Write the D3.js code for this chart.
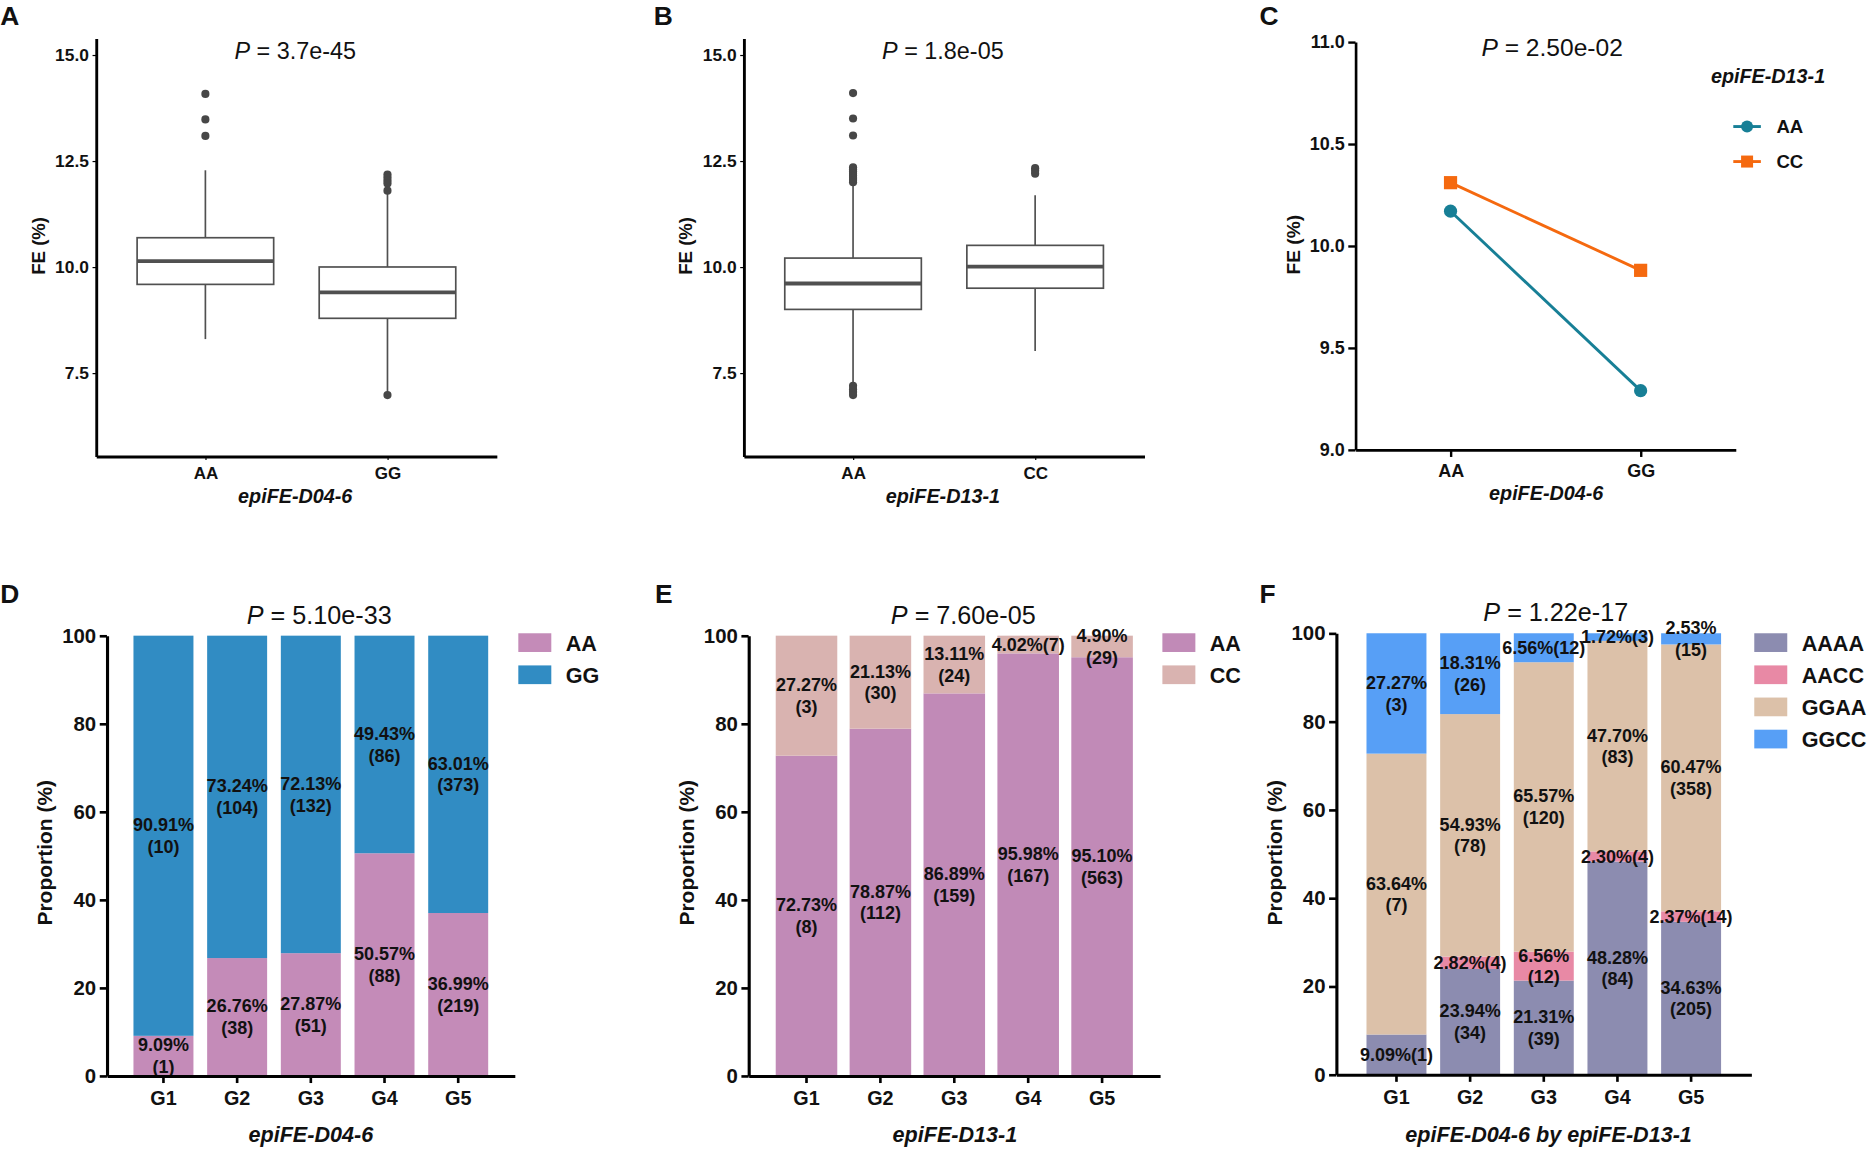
<!DOCTYPE html>
<html>
<head>
<meta charset="utf-8">
<script src="https://cdn.jsdelivr.net/npm/d3@7"></script>
<style>
body { margin: 0; background: #fff; }
svg text { font-family: "Liberation Sans", Arial, Helvetica, sans-serif; fill: #111; }
</style>
</head>
<body>
<svg id="fig"></svg>
<script>
"use strict";

// ---------------------------------------------------------------- data
const pValues = ["3.7e-45", "1.8e-05", "2.50e-02", "5.10e-33", "7.60e-05", "1.22e-17"];

// A: FE by epiFE-D04-6
const boxGroupsA = ["AA", "GG"];
const boxStatsA = [
  {lo: 8.30, q1: 9.59, med: 10.14, q3: 10.69, hi: 12.28},
  {lo: 7.05, q1: 8.79, med: 9.40, q3: 10.00, hi: 11.75}
];
const outliersA = [
  [14.08, 13.48, 13.09],
  [12.18, 12.11, 12.04, 11.97, 11.80, 6.98]
];

// B: FE by epiFE-D13-1
const boxGroupsB = ["AA", "CC"];
const boxStatsB = [
  {lo: 7.27, q1: 9.00, med: 9.61, q3: 10.21, hi: 11.95},
  {lo: 8.02, q1: 9.50, med: 10.01, q3: 10.51, hi: 11.69}
];
const outliersB = [
  [14.10, 13.50, 13.10, 12.35, 12.30, 12.25, 12.20, 12.15, 12.10, 12.05, 12.00, 7.20, 7.12, 7.05, 6.98],
  [12.33, 12.27, 12.20]
];

// C: interaction plot
const lineGroupsC = ["AA", "GG"];
const seriesNamesC = ["AA", "CC"];
const meanC_AA = [10.17, 9.29];
const meanC_CC = [10.31, 9.88];

// D, E, F: proportions per group
const groups = ["G1", "G2", "G3", "G4", "G5"];

const pctD_AA = [9.09, 26.76, 27.87, 50.57, 36.99];
const pctD_GG = [90.91, 73.24, 72.13, 49.43, 63.01];
const nD_AA = [1, 38, 51, 88, 219];
const nD_GG = [10, 104, 132, 86, 373];

const pctE_AA = [72.73, 78.87, 86.89, 95.98, 95.10];
const pctE_CC = [27.27, 21.13, 13.11, 4.02, 4.90];
const nE_AA = [8, 112, 159, 167, 563];
const nE_CC = [3, 30, 24, 7, 29];

const pctF_AAAA = [9.09, 23.94, 21.31, 48.28, 34.63];
const pctF_AACC = [0, 2.82, 6.56, 2.30, 2.37];
const pctF_GGAA = [63.64, 54.93, 65.57, 47.70, 60.47];
const pctF_GGCC = [27.27, 18.31, 6.56, 1.72, 2.53];
const nF_AAAA = [1, 34, 39, 84, 205];
const nF_AACC = [0, 4, 12, 4, 14];
const nF_GGAA = [7, 78, 120, 83, 358];
const nF_GGCC = [3, 26, 12, 3, 15];

// labels written on one line instead of two
const oneLineD = {AA: [0, 0, 0, 0, 0], GG: [0, 0, 0, 0, 0]};
const oneLineE = {AA: [0, 0, 0, 0, 0], CC: [0, 0, 0, 1, 0]};
const oneLineF = {AAAA: [1, 0, 0, 0, 0], AACC: [0, 1, 0, 1, 1], GGAA: [0, 0, 0, 0, 0], GGCC: [0, 0, 1, 1, 0]};

// ---------------------------------------------------------------- helpers
const svg = d3.select("#fig")
  .attr("width", 1875)
  .attr("height", 1155)
  .attr("viewBox", "0 0 1563 963");

const panelLetter = (x, y, t) => {
  svg.append("text").attr("x", x).attr("y", y)
    .style("font-size", "22px").style("font-weight", "bold").text(t);
};

const pLabel = (x, y, v, size) => {
  const t = svg.append("text").attr("x", x).attr("y", y)
    .attr("text-anchor", "middle").style("font-size", size + "px");
  t.append("tspan").style("font-style", "italic").text("P");
  t.append("tspan").text(" = " + v);
};

const yTitle = (x, y, t, size) => {
  svg.append("text")
    .attr("transform", `translate(${x},${y}) rotate(-90)`)
    .attr("text-anchor", "middle")
    .style("font-size", size + "px").style("font-weight", "bold").text(t);
};

const xTitle = (x, y, t, size) => {
  svg.append("text").attr("x", x).attr("y", y).attr("text-anchor", "middle")
    .style("font-size", size + "px").style("font-weight", "bold").style("font-style", "italic").text(t);
};

const styleAxis = (sel, lineW, tickW, fontSize) => {
  sel.select(".domain").attr("stroke", "#000").attr("stroke-width", lineW);
  sel.selectAll(".tick line").attr("stroke", "#000").attr("stroke-width", tickW);
  sel.selectAll(".tick text")
    .style("font-size", fontSize + "px").style("font-weight", "bold")
    .style("font-family", "'Liberation Sans', Arial, sans-serif").attr("fill", "#111");
};

// ---------------------------------------------------------------- box plots
const boxPanel = (o) => {
  const g = svg.append("g");
  const y = d3.scaleLinear().domain([5.535, 15.39]).range([380.5, 32]);
  const x = d3.scalePoint().domain(o.groups).range([o.left, o.left + 334]).padding(0.6);
  const hw = x.step() * 0.375;

  o.stats.forEach((s, i) => {
    const cx = x(o.groups[i]);
    const b = g.append("g").attr("stroke", "#505050");
    b.append("line").attr("x1", cx).attr("x2", cx).attr("y1", y(s.q3)).attr("y2", y(s.hi)).attr("stroke-width", 1.4);
    b.append("line").attr("x1", cx).attr("x2", cx).attr("y1", y(s.q1)).attr("y2", y(s.lo)).attr("stroke-width", 1.4);
    b.append("rect").attr("x", cx - hw).attr("y", y(s.q3))
      .attr("width", 2 * hw).attr("height", y(s.q1) - y(s.q3))
      .attr("fill", "#fff").attr("stroke-width", 1.4);
    b.append("line").attr("x1", cx - hw).attr("x2", cx + hw).attr("y1", y(s.med)).attr("y2", y(s.med)).attr("stroke-width", 3.2);
    g.selectAll(null).data(o.outliers[i]).enter().append("circle")
      .attr("cx", cx).attr("cy", d => y(d)).attr("r", 3.4).attr("fill", "#474747");
  });

  const ya = g.append("g").attr("transform", `translate(${o.left},0)`)
    .call(d3.axisLeft(y).tickValues([7.5, 10, 12.5, 15]).tickFormat(d3.format(".1f"))
      .tickSize(3).tickSizeOuter(0).tickPadding(3));
  styleAxis(ya, 2.4, 1, 14.5);

  const xa = g.append("g").attr("transform", "translate(0,380.5)")
    .call(d3.axisBottom(x).tickSize(3).tickSizeOuter(0).tickPadding(5.5));
  styleAxis(xa, 2.4, 1, 14.2);

  const mid = o.left + 167;
  pLabel(mid - 1, 49, o.p, 19.5);
  yTitle(o.left - 43, 205, "FE (%)", 15.5);
  xTitle(mid - 1, 419, o.title, 16.5);
};

panelLetter(0, 21, "A");
boxPanel({left: 80, groups: boxGroupsA, stats: boxStatsA, outliers: outliersA, p: pValues[0], title: "epiFE-D04-6"});
panelLetter(545, 21, "B");
boxPanel({left: 620, groups: boxGroupsB, stats: boxStatsB, outliers: outliersB, p: pValues[1], title: "epiFE-D13-1"});

// ---------------------------------------------------------------- interaction plot
(() => {
  const g = svg.append("g");
  const y = d3.scaleLinear().domain([9, 11]).range([375, 35]);
  const x = d3.scalePoint().domain(lineGroupsC).range([1130, 1447]).padding(0.5);
  const colors = ["#177f96", "#f5690f"];
  const series = [meanC_AA, meanC_CC];
  const line = d3.line().x((d, i) => x(lineGroupsC[i])).y(d => y(d));

  const ya = g.append("g").attr("transform", "translate(1130,0)")
    .call(d3.axisLeft(y).tickValues([9, 9.5, 10, 10.5, 11]).tickFormat(d3.format(".1f"))
      .tickSize(6).tickSizeOuter(0).tickPadding(3));
  styleAxis(ya, 2.2, 2, 15);
  const xa = g.append("g").attr("transform", "translate(0,375)")
    .call(d3.axisBottom(x).tickSize(6).tickSizeOuter(0).tickPadding(6));
  styleAxis(xa, 2.2, 2, 15);

  series.forEach((s, k) => {
    g.append("path").datum(s).attr("d", line).attr("fill", "none")
      .attr("stroke", colors[k]).attr("stroke-width", 2.4);
    if (k === 0) {
      g.selectAll(null).data(s).enter().append("circle")
        .attr("cx", (d, i) => x(lineGroupsC[i])).attr("cy", d => y(d)).attr("r", 5.5).attr("fill", colors[k]);
    } else {
      g.selectAll(null).data(s).enter().append("rect")
        .attr("x", (d, i) => x(lineGroupsC[i]) - 5.5).attr("y", d => y(d) - 5.5)
        .attr("width", 11).attr("height", 11).attr("fill", colors[k]);
    }
  });

  // legend
  svg.append("text").attr("x", 1474).attr("y", 69.5).attr("text-anchor", "middle")
    .style("font-size", "16.5px").style("font-weight", "bold").style("font-style", "italic").text("epiFE-D13-1");
  seriesNamesC.forEach((n, k) => {
    const ly = 105.5 + k * 29.2;
    svg.append("line").attr("x1", 1445).attr("x2", 1468).attr("y1", ly).attr("y2", ly)
      .attr("stroke", colors[k]).attr("stroke-width", 2.4);
    if (k === 0) svg.append("circle").attr("cx", 1456.5).attr("cy", ly).attr("r", 5).attr("fill", colors[k]);
    else svg.append("rect").attr("x", 1451.5).attr("y", ly - 5).attr("width", 10).attr("height", 10).attr("fill", colors[k]);
    svg.append("text").attr("x", 1481).attr("y", ly + 5.5)
      .style("font-size", "15.5px").style("font-weight", "bold").text(n);
  });

  pLabel(1294, 47, pValues[2], 20.5);
  yTitle(1084, 204, "FE (%)", 16);
  xTitle(1289, 417, "epiFE-D04-6", 16.5);
})();
panelLetter(1050, 21, "C");

// ---------------------------------------------------------------- stacked bars
const barPanel = (o) => {
  const g = svg.append("g");
  const rows = groups.map((grp, i) => {
    const r = {group: grp};
    o.keys.forEach((k, j) => { r[k] = o.pct[j][i]; });
    return r;
  });
  const stacked = d3.stack().keys(o.keys)(rows);
  const y = d3.scaleLinear().domain([0, 100]).range([o.yBot, o.yTop]);
  const x = d3.scaleBand().domain(groups).range([o.left, o.right])
    .paddingInner(o.pi).paddingOuter(o.po);

  stacked.forEach((s, j) => {
    g.selectAll(null).data(s).enter().append("rect")
      .attr("x", d => x(d.data.group)).attr("width", x.bandwidth())
      .attr("y", d => y(d[1])).attr("height", d => y(d[0]) - y(d[1]))
      .attr("fill", o.colors[j]);
  });

  const fs = 15;
  stacked.forEach((s, j) => {
    const key = o.keys[j];
    s.forEach((d, i) => {
      const v = o.pct[j][i];
      if (!v) return;
      const cx = x(d.data.group) + x.bandwidth() / 2;
      const mid = (y(d[0]) + y(d[1])) / 2;
      const pct = v.toFixed(2) + "%";
      const cnt = "(" + o.counts[j][i] + ")";
      const lines = o.oneLine[key][i] ? [pct + cnt] : [pct, cnt];
      lines.forEach((t, l) => {
        const off = (l - (lines.length - 1) / 2) * 18;
        g.append("text").attr("x", cx).attr("y", mid + off + fs * 0.35)
          .attr("text-anchor", "middle")
          .style("font-size", fs + "px").style("font-weight", "bold").text(t);
      });
    });
  });

  const ya = g.append("g").attr("transform", `translate(${o.left},0)`)
    .call(d3.axisLeft(y).tickValues([0, 20, 40, 60, 80, 100]).tickSize(6).tickSizeOuter(0).tickPadding(3));
  styleAxis(ya, 2.6, 2.2, 17);
  const xa = g.append("g").attr("transform", `translate(0,${o.yBot})`)
    .call(d3.axisBottom(x).tickSize(6).tickSizeOuter(0).tickPadding(6.5));
  styleAxis(xa, 2.6, 2.2, 16.5);

  // legend
  o.keys.forEach((k, j) => {
    const ly = 528 + j * 26.8;
    svg.append("rect").attr("x", o.legX).attr("y", ly).attr("width", 27.5).attr("height", 15.6).attr("fill", o.colors[j]);
    svg.append("text").attr("x", o.legX + 39.5).attr("y", ly + 14.4)
      .style("font-size", "18px").style("font-weight", "bold").text(k);
  });

  pLabel(o.pX, o.pY, o.p, 21);
  yTitle(o.left - 45.5, 711, "Proportion (%)", 17.5);
  xTitle(o.titleX, 952, o.title, 18);
};

panelLetter(0, 503, "D");
barPanel({
  left: 89, right: 429, yTop: 530, yBot: 897, pi: 0.186, po: 0.36,
  keys: ["AA", "GG"], colors: ["#c48bb8", "#318cc3"],
  pct: [pctD_AA, pctD_GG], counts: [nD_AA, nD_GG], oneLine: oneLineD,
  legX: 432, pX: 266, pY: 520, p: pValues[3], titleX: 259, title: "epiFE-D04-6"
});

panelLetter(546, 503, "E");
barPanel({
  left: 624, right: 967, yTop: 530, yBot: 897, pi: 0.167, po: 0.367,
  keys: ["AA", "CC"], colors: ["#c18ab7", "#d9b3b0"],
  pct: [pctE_AA, pctE_CC], counts: [nE_AA, nE_CC], oneLine: oneLineE,
  legX: 969, pX: 803, pY: 520, p: pValues[4], titleX: 796, title: "epiFE-D13-1"
});

panelLetter(1050, 503, "F");
barPanel({
  left: 1114, right: 1460, yTop: 528, yBot: 896, pi: 0.186, po: 0.41,
  keys: ["AAAA", "AACC", "GGAA", "GGCC"], colors: ["#8c8cb0", "#e889a5", "#dcc1a9", "#579ff6"],
  pct: [pctF_AAAA, pctF_AACC, pctF_GGAA, pctF_GGCC],
  counts: [nF_AAAA, nF_AACC, nF_GGAA, nF_GGCC], oneLine: oneLineF,
  legX: 1462.5, pX: 1297, pY: 518, p: pValues[5], titleX: 1291, title: "epiFE-D04-6 by epiFE-D13-1"
});
</script>
</body>
</html>
